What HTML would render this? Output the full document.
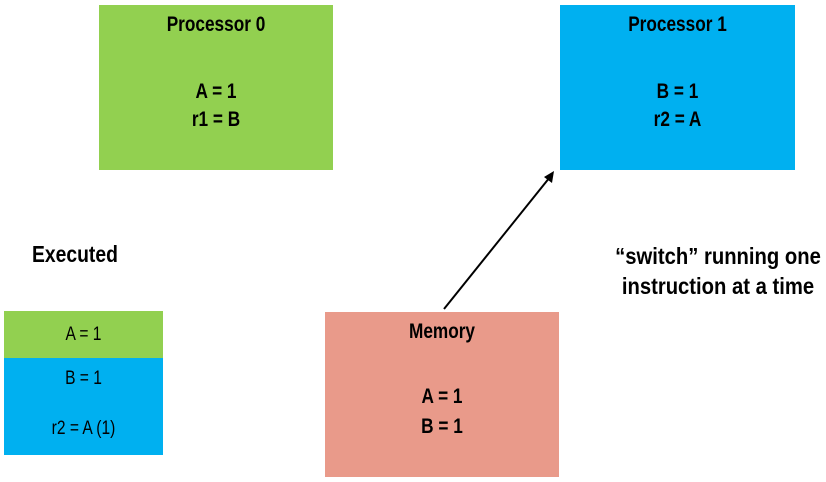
<!DOCTYPE html>
<html><head><meta charset="utf-8"><style>
body{margin:0;width:826px;height:482px;background:#fff;position:relative;overflow:hidden;font-family:"Liberation Sans",sans-serif;font-weight:bold;color:#000}
.b{position:absolute;text-align:center;font-size:21px}
.b div,.s{transform:scaleX(0.82);transform-origin:center}
.t{position:absolute;white-space:nowrap}
</style></head><body>
<div class="b" style="left:99px;top:5px;width:234px;height:165px;background:#92d050">
<div style="position:absolute;top:8px;width:100%">Processor 0</div>
<div style="position:absolute;top:73px;width:100%;line-height:28px">A = 1<br>r1 = B</div></div>
<div class="b" style="left:560px;top:5px;width:235px;height:165px;background:#00b0f0">
<div style="position:absolute;top:8px;width:100%">Processor 1</div>
<div style="position:absolute;top:73px;width:100%;line-height:28px">B = 1<br>r2 = A</div></div>
<div class="b" style="left:325px;top:312px;width:234px;height:165px;background:#e99a8a">
<div style="position:absolute;top:8px;width:100%">Memory</div>
<div style="position:absolute;top:70px;width:100%;line-height:30px">A = 1<br>B = 1</div></div>
<div class="t" style="left:24px;top:241px;font-size:23px;width:100px;text-align:center;transform:scaleX(0.84)">Executed</div>
<div class="b" style="left:4px;top:311px;width:159px;height:47px;background:#92d050;font-weight:normal;font-size:19px;line-height:47px"><div>A = 1</div></div>
<div class="b" style="left:4px;top:358px;width:159px;height:97px;background:#00b0f0;font-weight:normal;font-size:19px">
<div style="position:absolute;top:10px;width:100%">B = 1</div>
<div style="position:absolute;top:60px;width:100%">r2 = A (1)</div></div>
<div class="t" style="left:588px;top:241px;width:260px;line-height:30px;font-size:23px;text-align:center;transform:scaleX(0.88)">“switch” running one<br>instruction at a time</div>
<svg width="826" height="482" style="position:absolute;left:0;top:0">
<line x1="444" y1="309" x2="550" y2="177" stroke="#000" stroke-width="2"/>
<polygon points="554,171 552,183 544,177" fill="#000"/>
</svg>
</body></html>
